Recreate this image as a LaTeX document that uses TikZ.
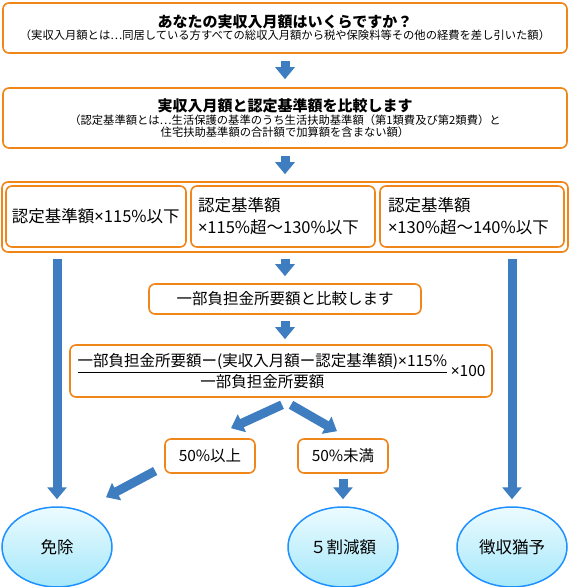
\documentclass[tikz,border=0pt]{standalone}
\usepackage{fontspec}
\setmainfont{Noto Sans CJK JP}
\newfontfamily\latinfont{Noto Sans}
\usepackage{amsmath}
\usetikzlibrary{arrows.meta, calc, shapes.geometric}

\definecolor{boxorange}{RGB}{240,133,25}
\definecolor{arrowblue}{RGB}{61,125,192}
\definecolor{ellblue}{RGB}{30,144,255}
\definecolor{elltop}{RGB}{236,251,255}
\definecolor{ellbottom}{RGB}{165,232,250}

\newcommand\headfont{\fontsize{15}{18}\selectfont\bfseries}
\newcommand\notefont{\fontsize{11.3}{16}\selectfont\mdseries}
\newcommand\bodyfont{\fontsize{15.5}{21}\selectfont}
\newcommand\casefont{\fontsize{16.5}{22}\selectfont}
\newcommand\tms{{\latinfont ×}}

\tikzset{
  obox/.style={draw=boxorange, line width=1.6pt, rounded corners=6pt, fill=white, inner sep=0pt},
  lbox/.style={obox, minimum height=61pt, align=left, font=\casefont},
  endnode/.style={ellipse, draw=ellblue, line width=1.5pt, top color=elltop, bottom color=ellbottom,
    minimum width=110pt, minimum height=80pt, font=\casefont},
  barrow/.style={draw=arrowblue, line width=9pt, -{Triangle[width=19pt,length=12pt]}, arrowblue}
}

\begin{document}
\begin{tikzpicture}[x=1pt,y=-1pt]
  \useasboundingbox (0,0) rectangle (570,587);

  % questions
  \node[obox, minimum width=564pt, minimum height=50pt, align=center] (q1) at (285,28)
    {\headfont あなたの実収入月額はいくらですか？\\[0pt]
     \notefont （実収入月額とは…同居している方すべての総収入月額から税や保険料等その他の経費を差し引いた額）};
  \node[obox, minimum width=564pt, minimum height=60pt, align=center] (q2) at (285,118)
    {\headfont 実収入月額と認定基準額を比較します\\[1pt]
     \notefont （認定基準額とは…生活保護の基準のうち生活扶助基準額（第1類費及び第2類費）と\\
      \notefont 住宅扶助基準額の合計額で加算額を含まない額）};

  % three ranks
  \node[obox, minimum width=566pt, minimum height=70pt] (rank) at (285,217) {};
  \node[lbox, minimum width=180pt, text width=168pt] (caseA) at (96,216.5) {認定基準額\tms 115\%以下};
  \node[lbox, minimum width=184pt, text width=170pt] (caseB) at (283,216.5) {認定基準額\\\tms 115\%超〜130\%以下};
  \node[lbox, minimum width=184pt, text width=168pt] (caseC) at (472,216.5) {認定基準額\\\tms 130\%超〜140\%以下};

  % middle branch
  \node[obox, minimum width=272pt, minimum height=30pt, font=\bodyfont] (cmp) at (285,299) {一部負担金所要額と比較します};
  \node[obox, minimum width=422pt, minimum height=52pt, font=\bodyfont] (formula) at (281,371)
    {$\dfrac{\mbox{一部負担金所要額ー(実収入月額ー認定基準額)\tms 115\%}}{\mbox{一部負担金所要額}}$\,\tms 100};
  \node[obox, minimum width=90pt, minimum height=34pt, font=\bodyfont] (ge50) at (210,456) {50\%以上};
  \node[obox, minimum width=90pt, minimum height=34pt, font=\bodyfont] (lt50) at (343,456) {50\%未満};

  % results
  \node[endnode] (exempt) at (57,547) {免除};
  \node[endnode] (half) at (343,547) {５割減額};
  \node[endnode] (defer) at (512,547) {徴収猶予};

  % arrows
  \draw[barrow, shorten <=7pt, shorten >=8pt] (q1) -- (q2);
  \draw[barrow, shorten <=7pt, shorten >=7pt] (q2) -- (rank);
  \draw[barrow, shorten <=6pt, shorten >=7pt] (rank) -- (cmp);
  \draw[barrow, shorten <=6pt, shorten >=5pt] (cmp.south) -- (cmp.south |- formula.north);
  \draw[barrow, shorten <=6pt, shorten >=7pt] (rank.south -| exempt.north) -- (exempt.north);
  \draw[barrow, shorten <=6pt, shorten >=7pt] (rank.south -| defer.north) -- (defer.north);

  \coordinate (fl) at ($(formula.south)+(1,7)$);
  \coordinate (fr) at ($(formula.south)+(10,7)$);
  \draw[barrow] (fl) -- ($(ge50.north)+(21,-10)$);
  \draw[barrow] (fr) -- ($(lt50.north)+(-6,-7)$);
  \draw[barrow] ($(ge50.west)+(-9,15)$) -- ($(exempt.north)+(49,-9)$);
  \draw[barrow, shorten <=5pt, shorten >=7pt] (lt50) -- (half);
\end{tikzpicture}
\end{document}
